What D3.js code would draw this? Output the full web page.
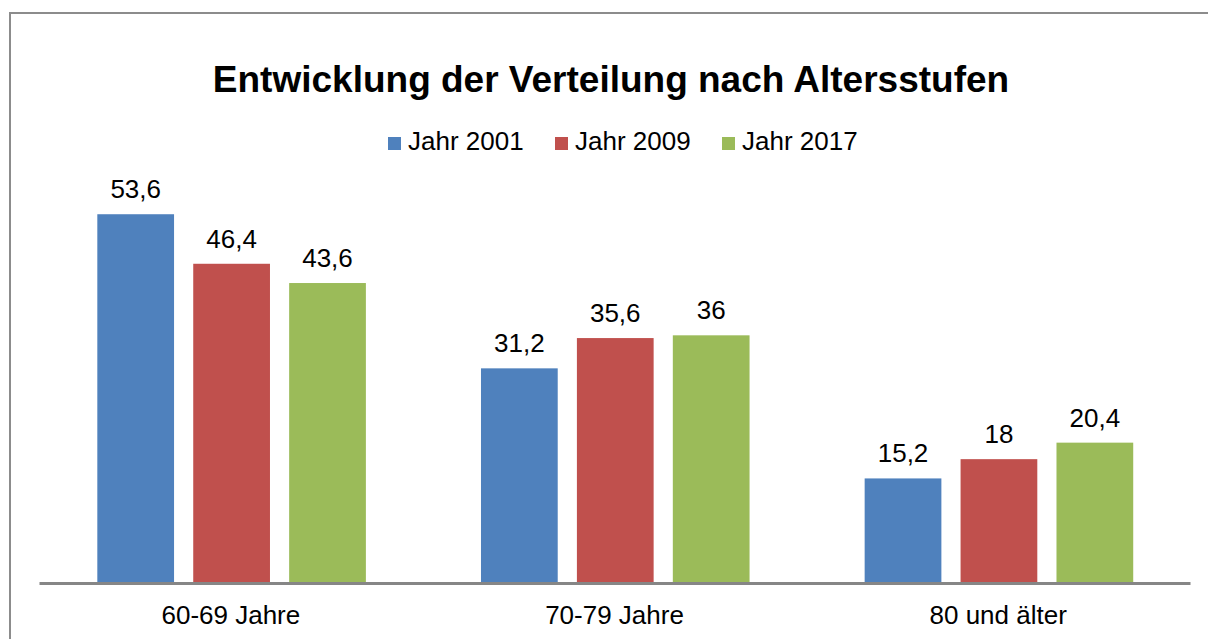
<!DOCTYPE html>
<html>
<head>
<meta charset="utf-8">
<script src="https://cdn.jsdelivr.net/npm/d3@7"></script>
<style>
  body { margin: 0; background: #fff; }
  svg { display: block; font-family: "Liberation Sans", Arial, sans-serif; }
</style>
</head>
<body>
<div id="chart"></div>
<script>
const categories = ["60-69 Jahre", "70-79 Jahre", "80 und älter"];
const seriesNames = ["Jahr 2001", "Jahr 2009", "Jahr 2017"];
const values2001 = [53.6, 31.2, 15.2];
const values2009 = [46.4, 35.6, 18];
const values2017 = [43.6, 36, 20.4];
const colors = ["#4F81BD", "#C0504D", "#9BBB59"];

const w = 1208;
const h = 639;
const plotLeft = 39, plotRight = 1190, baseline = 583;

const series = [values2001, values2009, values2017];

const svg = d3.select("#chart")
  .append("svg")
  .attr("width", w)
  .attr("height", h);

// outer frame of the chart
svg.append("rect")
  .attr("x", 10).attr("y", 13)
  .attr("width", 1240).attr("height", 700)
  .attr("fill", "none")
  .attr("stroke", "#8c8c8c")
  .attr("stroke-width", 2);

const x0 = d3.scaleBand()
  .domain(categories)
  .range([plotLeft, plotRight]);

const bw = x0.bandwidth();
const x1 = d3.scaleBand()
  .domain(seriesNames)
  .range([bw * 0.152, bw * 0.852])
  .paddingInner(0.2);

const y = d3.scaleLinear()
  .domain([0, 60])
  .range([baseline, baseline - 60 * 6.88]);

// bars
const groups = svg.selectAll("g.cat")
  .data(categories)
  .enter()
  .append("g")
  .attr("class", "cat")
  .attr("transform", d => `translate(${x0(d)},0)`);

groups.selectAll("rect")
  .data((c, i) => seriesNames.map((s, j) => ({ s, j, v: series[j][i] })))
  .enter()
  .append("rect")
  .attr("x", d => x1(d.s))
  .attr("y", d => y(d.v))
  .attr("width", x1.bandwidth())
  .attr("height", d => baseline - y(d.v))
  .attr("fill", d => colors[d.j]);

// value labels
groups.selectAll("text.val")
  .data((c, i) => seriesNames.map((s, j) => ({ s, j, v: series[j][i] })))
  .enter()
  .append("text")
  .attr("class", "val")
  .attr("x", d => x1(d.s) + x1.bandwidth() / 2)
  .attr("y", d => y(d.v) - 16)
  .attr("text-anchor", "middle")
  .attr("font-size", 26)
  .attr("fill", "#000")
  .text(d => String(d.v).replace(".", ","));

// x axis
const xAxis = svg.append("g")
  .attr("transform", `translate(0, ${baseline})`)
  .call(d3.axisBottom(x0).tickSize(0).tickPadding(0));
xAxis.select(".domain")
  .attr("stroke", "#868686")
  .attr("stroke-width", 3);
xAxis.selectAll(".tick text")
  .attr("font-size", 26)
  .attr("font-family", "Liberation Sans, Arial, sans-serif")
  .attr("fill", "#000")
  .attr("dy", null)
  .attr("y", 41);

// title
svg.append("text")
  .attr("x", 611)
  .attr("y", 92)
  .attr("text-anchor", "middle")
  .attr("font-size", 37)
  .attr("font-weight", "bold")
  .text("Entwicklung der Verteilung nach Altersstufen");

// legend
const legend = svg.append("g").attr("transform", "translate(388, 0)");
const items = legend.selectAll("g")
  .data(seriesNames)
  .enter()
  .append("g")
  .attr("transform", (d, i) => `translate(${i * 167}, 0)`);
items.append("rect")
  .attr("x", 0).attr("y", 137)
  .attr("width", 13).attr("height", 13)
  .attr("fill", (d, i) => colors[i]);
items.append("text")
  .attr("x", 20)
  .attr("y", 150)
  .attr("font-size", 26)
  .text(d => d);
</script>
</body>
</html>
